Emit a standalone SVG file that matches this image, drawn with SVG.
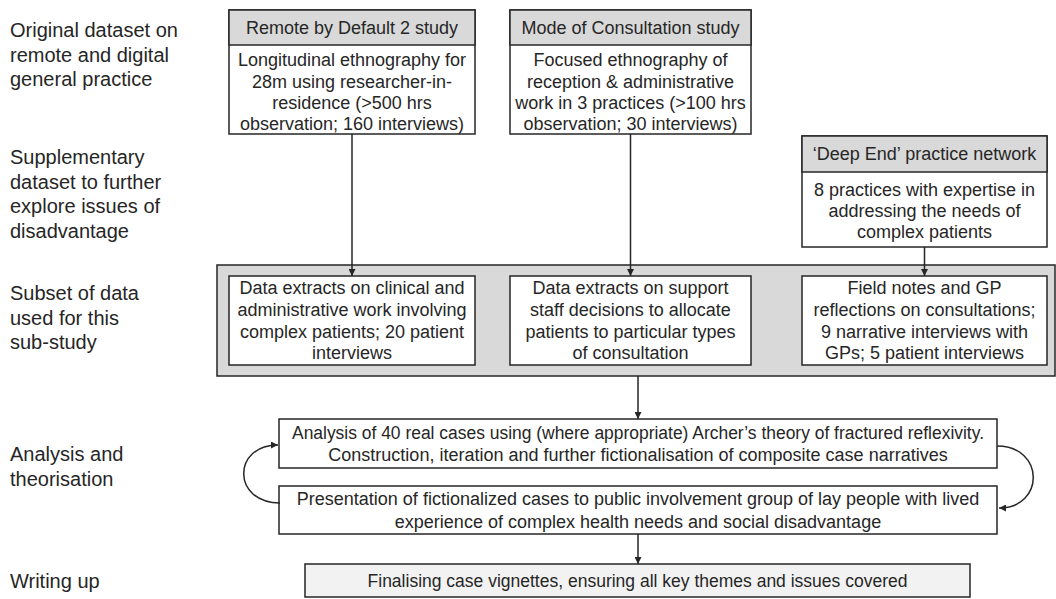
<svg xmlns="http://www.w3.org/2000/svg" width="1056" height="599" viewBox="0 0 1056 599">
<defs>
<style>
text{font-family:"Liberation Sans",Arial,sans-serif;fill:#262626}
.lbl{font-size:20px}
.t{font-size:18px;text-anchor:middle}
.box{fill:#fff;stroke:#262626;stroke-width:1.5}
.hdr{fill:#d9d9d9;stroke:#262626;stroke-width:1.5}
.band{fill:#d9d9d9;stroke:#262626;stroke-width:1.5}
.fin{fill:#f2f2f2;stroke:#262626;stroke-width:1.5}
.con{fill:none;stroke:#262626;stroke-width:1.5}
</style>
<marker id="ah" viewBox="0 0 8 8" refX="8" refY="4" markerWidth="7" markerHeight="7" markerUnits="userSpaceOnUse" orient="auto">
<path d="M0,0 L8,4 L0,8 z" fill="#262626"/>
</marker>
</defs>
<rect width="1056" height="599" fill="#fff"/>

<g id="labels">
<text class="lbl" x="10" y="37">Original dataset on</text>
<text class="lbl" x="10" y="61.5">remote and digital</text>
<text class="lbl" x="10" y="86">general practice</text>
<text class="lbl" x="10" y="164">Supplementary</text>
<text class="lbl" x="10" y="188.5">dataset to further</text>
<text class="lbl" x="10" y="213">explore issues of</text>
<text class="lbl" x="10" y="237.5">disadvantage</text>
<text class="lbl" x="10" y="300">Subset of data</text>
<text class="lbl" x="10" y="324.5">used for this</text>
<text class="lbl" x="10" y="349">sub-study</text>
<text class="lbl" x="10" y="461">Analysis and</text>
<text class="lbl" x="10" y="485.5">theorisation</text>
<text class="lbl" x="10" y="588">Writing up</text>
</g>

<g id="band">
<rect class="band" x="217" y="265" width="838" height="111"/>
</g>

<g id="rbd2">
<rect class="box" x="229" y="10" width="246" height="124"/>
<rect class="hdr" x="229" y="10" width="246" height="35"/>
<text class="t" x="352" y="34">Remote by Default 2 study</text>
<text class="t" x="352" y="66">Longitudinal ethnography for</text>
<text class="t" x="352" y="87.5">28m using researcher-in-</text>
<text class="t" x="352" y="109">residence (&gt;500 hrs</text>
<text class="t" x="352" y="130">observation; 160 interviews)</text>
</g>

<g id="moc">
<rect class="box" x="510" y="10" width="241" height="124"/>
<rect class="hdr" x="510" y="10" width="241" height="35"/>
<text class="t" x="630.5" y="34">Mode of Consultation study</text>
<text class="t" x="630.5" y="66">Focused ethnography of</text>
<text class="t" x="630.5" y="87.5">reception &amp; administrative</text>
<text class="t" x="630.5" y="109">work in 3 practices (&gt;100 hrs</text>
<text class="t" x="630.5" y="130">observation; 30 interviews)</text>
</g>

<g id="deepend">
<rect class="box" x="802" y="136" width="245" height="111"/>
<rect class="hdr" x="802" y="136" width="245" height="36"/>
<text class="t" x="924.5" y="160">‘Deep End’ practice network</text>
<text class="t" x="924.5" y="196">8 practices with expertise in</text>
<text class="t" x="924.5" y="217">addressing the needs of</text>
<text class="t" x="924.5" y="238">complex patients</text>
</g>

<g id="subsetA">
<rect class="box" x="229" y="276" width="246" height="89"/>
<text class="t" x="352" y="294">Data extracts on clinical and</text>
<text class="t" x="352" y="316">administrative work involving</text>
<text class="t" x="352" y="338">complex patients; 20 patient</text>
<text class="t" x="352" y="359">interviews</text>
</g>

<g id="subsetB">
<rect class="box" x="510" y="276" width="241" height="89"/>
<text class="t" x="630.5" y="294">Data extracts on support</text>
<text class="t" x="630.5" y="316">staff decisions to allocate</text>
<text class="t" x="630.5" y="338">patients to particular types</text>
<text class="t" x="630.5" y="359">of consultation</text>
</g>

<g id="subsetC">
<rect class="box" x="802" y="276" width="245" height="89"/>
<text class="t" x="924.5" y="294">Field notes and GP</text>
<text class="t" x="924.5" y="316">reflections on consultations;</text>
<text class="t" x="924.5" y="338">9 narrative interviews with</text>
<text class="t" x="924.5" y="359">GPs; 5 patient interviews</text>
</g>

<g id="analysis">
<rect class="box" x="279" y="419" width="718" height="49"/>
<text class="t" x="638" y="439" textLength="692" lengthAdjust="spacingAndGlyphs">Analysis of 40 real cases using (where appropriate) Archer’s theory of fractured reflexivity.</text>
<text class="t" x="638" y="461">Construction, iteration and further fictionalisation of composite case narratives</text>
</g>

<g id="presentation">
<rect class="box" x="279" y="486" width="718" height="48"/>
<text class="t" x="638" y="505">Presentation of fictionalized cases to public involvement group of lay people with lived</text>
<text class="t" x="638" y="528">experience of complex health needs and social disadvantage</text>
</g>

<g id="final">
<rect class="fin" x="305" y="564" width="665" height="33"/>
<text class="t" x="637.5" y="587" style="font-size:17.5px">Finalising case vignettes, ensuring all key themes and issues covered</text>
</g>

<g id="connectors">
<line class="con" x1="352" y1="134" x2="352" y2="276" marker-end="url(#ah)"/>
<line class="con" x1="630.5" y1="134" x2="630.5" y2="276" marker-end="url(#ah)"/>
<line class="con" x1="924.5" y1="247" x2="924.5" y2="276" marker-end="url(#ah)"/>
<line class="con" x1="638" y1="376" x2="638" y2="419" marker-end="url(#ah)"/>
<line class="con" x1="638" y1="534" x2="638" y2="564" marker-end="url(#ah)"/>
<path class="con" d="M280,503 C232,503 232,445 278,445" marker-end="url(#ah)"/>
<path class="con" d="M997,446 C1045,446 1045,508 999,508" marker-end="url(#ah)"/>
</g>
</svg>
